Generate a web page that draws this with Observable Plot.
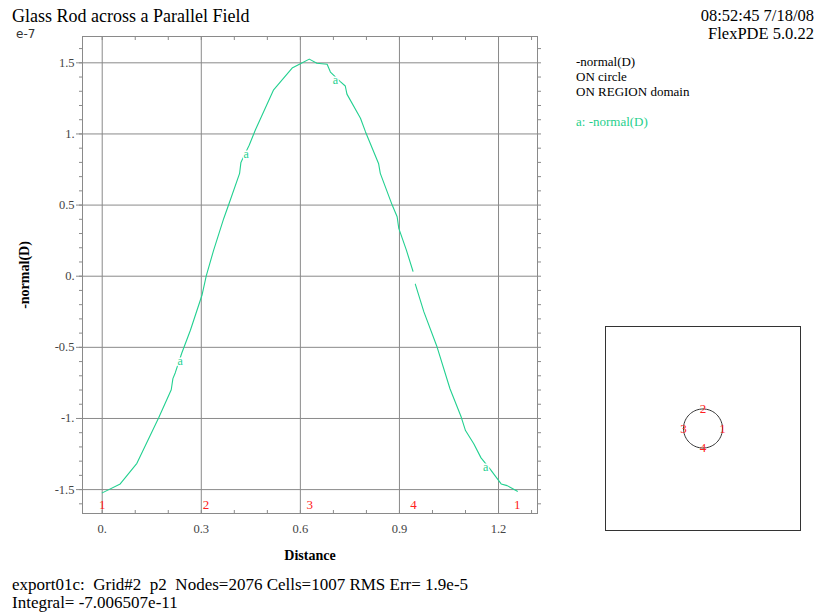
<!DOCTYPE html>
<html>
<head>
<meta charset="utf-8">
<script src="https://cdn.jsdelivr.net/npm/d3@7"></script>
<script src="https://cdn.jsdelivr.net/npm/@observablehq/plot@0.6"></script>
<style>
  html, body { margin: 0; padding: 0; background: white; }
  #wrap { position: relative; width: 820px; height: 613px; overflow: hidden; font-family: "Liberation Serif", "Times New Roman", serif; }
  .t { position: absolute; white-space: pre; color: #000; line-height: 1; }
  #main, #inset { position: absolute; }
</style>
</head>
<body>
<div id="wrap">
  <div id="main" style="left:0;top:0"></div>
  <div id="inset" style="left:604px;top:325px"></div>
  <div class="t" style="left:12px;top:7px;font-size:18px">Glass Rod across a Parallel Field</div>
  <div class="t" style="right:6px;top:8px;font-size:16.5px;text-align:right">08:52:45 7/18/08</div>
  <div class="t" style="right:6px;top:26px;font-size:16.5px;text-align:right">FlexPDE 5.0.22</div>
  <div class="t" style="left:576px;top:55px;font-size:13px">-normal(D)</div>
  <div class="t" style="left:576px;top:70px;font-size:13px">ON circle</div>
  <div class="t" style="left:576px;top:85px;font-size:13px">ON REGION domain</div>
  <div class="t" style="left:576px;top:115px;font-size:13px;color:#1fcf8c">a: -normal(D)</div>
  <div class="t" style="left:16px;top:28px;font-size:12px;font-family:'DejaVu Sans',sans-serif;color:#333">e-7</div>
  <div class="t" style="left:25px;top:275px;font-size:14px;font-weight:bold;transform:translate(-50%,-50%) rotate(-90deg)">-normal(D)</div>
  <div class="t" style="left:310px;top:556px;font-size:14px;font-weight:bold;transform:translate(-50%,-50%)">Distance</div>
  <div class="t" style="left:12px;top:576px;font-size:17px">export01c:  Grid#2  p2  Nodes=2076 Cells=1007 RMS Err= 1.9e-5</div>
  <div class="t" style="left:12px;top:594px;font-size:17px">Integral= -7.006507e-11</div>
</div>
<script>
// ---- data ----
const distance = [0, 0.0545, 0.105, 0.171, 0.209, 0.214, 0.221, 0.241, 0.267, 0.302, 0.315, 0.337, 0.368, 0.386, 0.416, 0.42, 0.426, 0.445, 0.464, 0.519, 0.575, 0.6, 0.627, 0.65, 0.681, 0.691, 0.721, 0.736, 0.741, 0.782, 0.797, 0.837, 0.842, 0.878, 0.893, 0.898, 0.921, 0.941, 0.945, 0.948, 0.974, 1.014, 1.053, 1.087, 1.1, 1.125, 1.147, 1.174, 1.208, 1.226, 1.257];
const normalD = [-1.523, -1.46, -1.315, -0.995, -0.798, -0.72, -0.68, -0.54, -0.38, -0.134, 0.002, 0.18, 0.406, 0.523, 0.723, 0.80, 0.83, 0.92, 1.03, 1.31, 1.463, 1.493, 1.526, 1.497, 1.49, 1.435, 1.368, 1.337, 1.28, 1.11, 1.016, 0.79, 0.723, 0.50, 0.418, 0.336, 0.183, 0.035, null, -0.056, -0.251, -0.498, -0.791, -0.99, -1.085, -1.178, -1.277, -1.354, -1.46, -1.472, -1.512];
const labelX = [0.236, 0.436, 0.706, 1.161];
const labelY = [-0.6, 0.86, 1.38, -1.343];
const segmentPos = [0, 0.3142, 0.6283, 0.9425, 1.2566];
const segmentLabels = ["1", "2", "3", "4", "1"];
const xMajor = [0, 0.3, 0.6, 0.9, 1.2];
const xMajorLabels = ["0.", "0.3", "0.6", "0.9", "1.2"];
const xMinor = [0, 0.1, 0.2, 0.3, 0.4, 0.5, 0.6, 0.7, 0.8, 0.9, 1.0, 1.1, 1.2, 1.3];
const yMajor = [-1.5, -1, -0.5, 0, 0.5, 1, 1.5];
const yMajorLabels = ["-1.5", "-1.", "-0.5", "0.", "0.5", "1.", "1.5"];
const yMinor = [-1.6, -1.5, -1.4, -1.3, -1.2, -1.1, -1.0, -0.9, -0.8, -0.7, -0.6, -0.5, -0.4, -0.3, -0.2, -0.1, 0, 0.1, 0.2, 0.3, 0.4, 0.5, 0.6, 0.7, 0.8, 0.9, 1.0, 1.1, 1.2, 1.3, 1.4, 1.5, 1.6];
const circleRadius = 0.2;
const boundaryLabels = ["1", "2", "3", "4"];
const boundaryAngles = [0, 90, 180, 270];

const green = "#22d090";
const gridColor = "#8a8a8a";

const curve = distance.map((d, i) => ({x: d, y: normalD[i]}));
const labels = labelX.map((d, i) => ({x: d, y: labelY[i]}));

const main = Plot.plot({
  width: 820, height: 613,
  marginLeft: 82, marginRight: 283, marginTop: 36, marginBottom: 100,
  style: {fontFamily: "'Liberation Serif', serif", fontSize: "12px", background: "white", color: "#444"},
  x: {domain: [-0.0597, 1.318], label: null},
  y: {domain: [-1.668, 1.685], label: null},
  marks: [
    Plot.gridX(xMajor, {stroke: gridColor, strokeOpacity: 1}),
    Plot.gridY(yMajor, {stroke: gridColor, strokeOpacity: 1}),
    Plot.frame({stroke: gridColor}),
    Plot.axisX(xMinor, {anchor: "bottom", tickSize: -3, text: null, label: null, stroke: gridColor}),
    Plot.axisX(xMinor, {anchor: "top", tickSize: -3, text: null, label: null, stroke: gridColor}),
    Plot.axisX(xMajor, {anchor: "bottom", tickSize: 0, tickPadding: 11, label: null, tickFormat: d => xMajorLabels[xMajor.indexOf(d)], fill: "#444", fontSize: 12.5}),
    Plot.axisY(yMinor, {anchor: "left", tickSize: 3, text: null, label: null, stroke: gridColor}),
    Plot.axisY(yMinor, {anchor: "right", tickSize: 3, text: null, label: null, stroke: gridColor}),
    Plot.axisY(yMajor, {anchor: "left", tickSize: 6, tickPadding: 2, label: null, stroke: gridColor, tickFormat: d => yMajorLabels[yMajor.indexOf(d)], fill: "#444", fontSize: 12.5}),
    Plot.line(curve, {x: "x", y: "y", stroke: green, strokeWidth: 1.1}),
    Plot.text(labels, {x: "x", y: "y", text: () => "a", fill: green, stroke: "white", strokeWidth: 3, fontSize: 12}),
    Plot.text(segmentPos, {x: d => d, frameAnchor: "bottom", dy: -5, text: (d, i) => segmentLabels[i], fill: "#ff2020", fontSize: 13})
  ]
});
document.getElementById("main").appendChild(main);

const circlePts = d3.range(0, 361, 5).map(a => ({x: circleRadius * Math.cos(a * Math.PI / 180), y: circleRadius * Math.sin(a * Math.PI / 180)}));
const bLabels = boundaryAngles.map((a, i) => ({x: circleRadius * Math.cos(a * Math.PI / 180), y: circleRadius * Math.sin(a * Math.PI / 180), t: boundaryLabels[i]}));

const inset = Plot.plot({
  width: 197, height: 206,
  margin: 1,
  style: {fontFamily: "'Liberation Serif', serif", background: "white"},
  x: {domain: [-1, 1], axis: null},
  y: {domain: [-1.045, 1.045], axis: null},
  marks: [
    Plot.frame({stroke: "#333"}),
    Plot.line(circlePts, {x: "x", y: "y", stroke: "#333", strokeWidth: 1}),
    Plot.text(bLabels, {x: "x", y: "y", text: "t", fill: "#ff2020", fontSize: 13})
  ]
});
document.getElementById("inset").appendChild(inset);
</script>
</body>
</html>
